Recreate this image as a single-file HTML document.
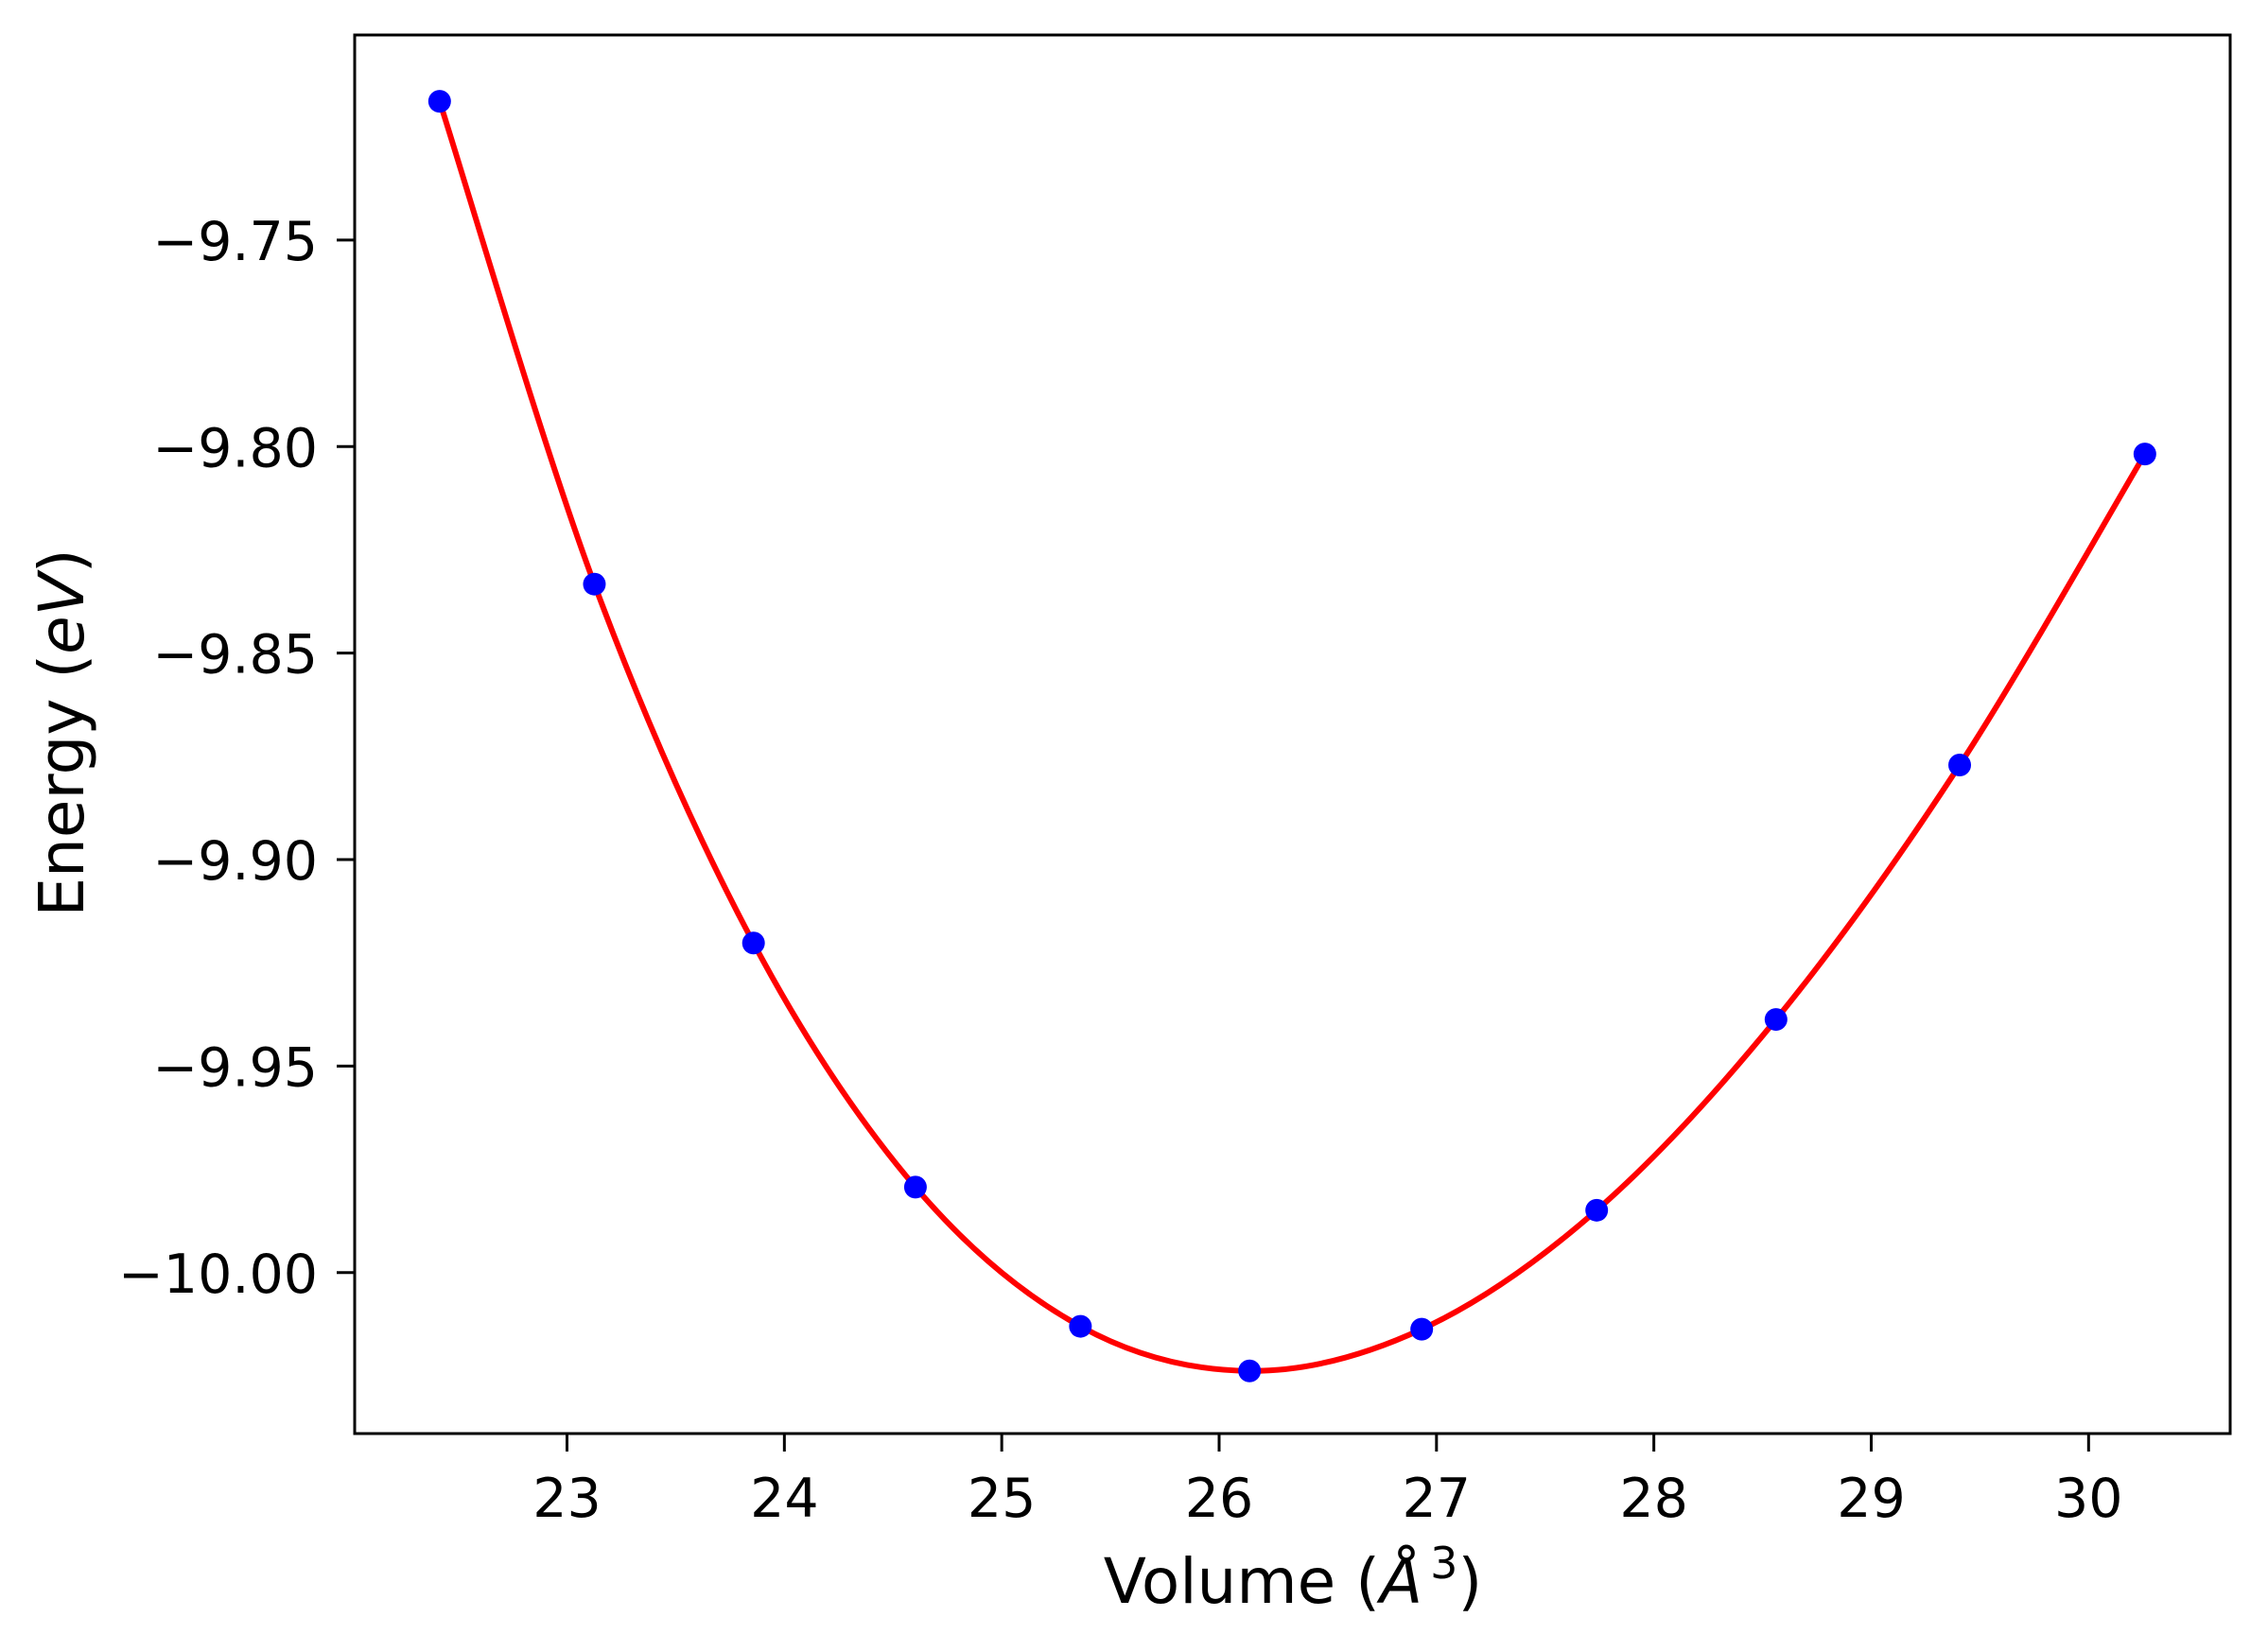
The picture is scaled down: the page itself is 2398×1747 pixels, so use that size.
<!DOCTYPE html>
<html><head><meta charset="utf-8"><style>
html,body{margin:0;padding:0;background:#fff;overflow:hidden;}
svg{display:block;font-family:"DejaVu Sans","Liberation Sans",sans-serif;}
</style></head><body>
<svg id="chart" width="2398" height="1747" viewBox="0 0 2398 1747" xmlns="http://www.w3.org/2000/svg">
<defs><clipPath id="clip"><rect x="375" y="37" width="1983" height="1479"/></clipPath></defs>
<rect width="2398" height="1747" fill="#fff"/>
<g id="plot" clip-path="url(#clip)"></g>
<rect x="375" y="37" width="1983" height="1479" fill="none" stroke="#000" stroke-width="3"/>
<g id="xticks"></g><g id="yticks"></g>
<text x="1367" y="1695" font-size="66" text-anchor="middle">Volume (<tspan font-style="italic">Å</tspan><tspan font-size="46" dx="8" dy="-26">3</tspan><tspan dy="26">)</tspan></text>
<text transform="translate(88,775) rotate(-90)" font-size="66" text-anchor="middle">Energy (<tspan font-style="italic">eV</tspan>)</text>
</svg>
<script>
const volumes=[22.414,23.126,23.858,24.603,25.362,26.140,26.932,27.737,28.562,29.407,30.259];
const energies=[-9.7164,-9.8333,-9.9202,-9.9793,-10.0130,-10.0238,-10.0137,-9.9849,-9.9387,-9.8771,-9.8018];
const xTicks=[23,24,25,26,27,28,29,30];
const yTicks=[-9.75,-9.80,-9.85,-9.90,-9.95,-10.00];
const yTickLabels=["\u22129.75","\u22129.80","\u22129.85","\u22129.90","\u22129.95","\u221210.00"];
const NS="http://www.w3.org/2000/svg";
function X(v){return 599.5+(v-23)*229.83;}
function Y(e){return 253.9+(-9.75-e)*4367.6;}
function mk(t,a,p){const el=document.createElementNS(NS,t);for(const k in a)el.setAttribute(k,a[k]);p.appendChild(el);return el;}
const plot=document.getElementById('plot');
const P=volumes.map((v,i)=>[X(v),Y(energies[i])]);
let d="M"+P[0][0]+","+P[0][1];
for(let i=0;i<P.length-1;i++){
 const p0=P[Math.max(i-1,0)],p1=P[i],p2=P[i+1],p3=P[Math.min(i+2,P.length-1)];
 const c1=[p1[0]+(p2[0]-p0[0])/6,p1[1]+(p2[1]-p0[1])/6];
 const c2=[p2[0]-(p3[0]-p1[0])/6,p2[1]-(p3[1]-p1[1])/6];
 d+=" C"+c1+" "+c2+" "+p2;
}
const line=mk('path',{d:d,fill:'none',stroke:'#ff0000','stroke-width':6},plot);


P.forEach((p,i)=>{
 const c=mk('circle',{cx:p[0],cy:p[1],r:12,fill:'#0000ff'},plot);
 
 
});
const xg=document.getElementById('xticks');
xTicks.forEach(v=>{
 const t=mk('line',{x1:X(v),x2:X(v),y1:1516,y2:1535,stroke:'#000','stroke-width':3},xg);
 
 
 const l=mk('text',{x:X(v),y:1604,'font-size':'57','text-anchor':'middle'},xg);
 l.textContent=v;
 
 
});
const yg=document.getElementById('yticks');
yTicks.forEach((v,i)=>{
 const t=mk('line',{x1:356,x2:375,y1:Y(v),y2:Y(v),stroke:'#000','stroke-width':3},yg);
 
 
 const l=mk('text',{x:336,y:Y(v)+21,'font-size':'57','text-anchor':'end'},yg);
 l.textContent=yTickLabels[i];
 
 
});
</script>
</body></html>
